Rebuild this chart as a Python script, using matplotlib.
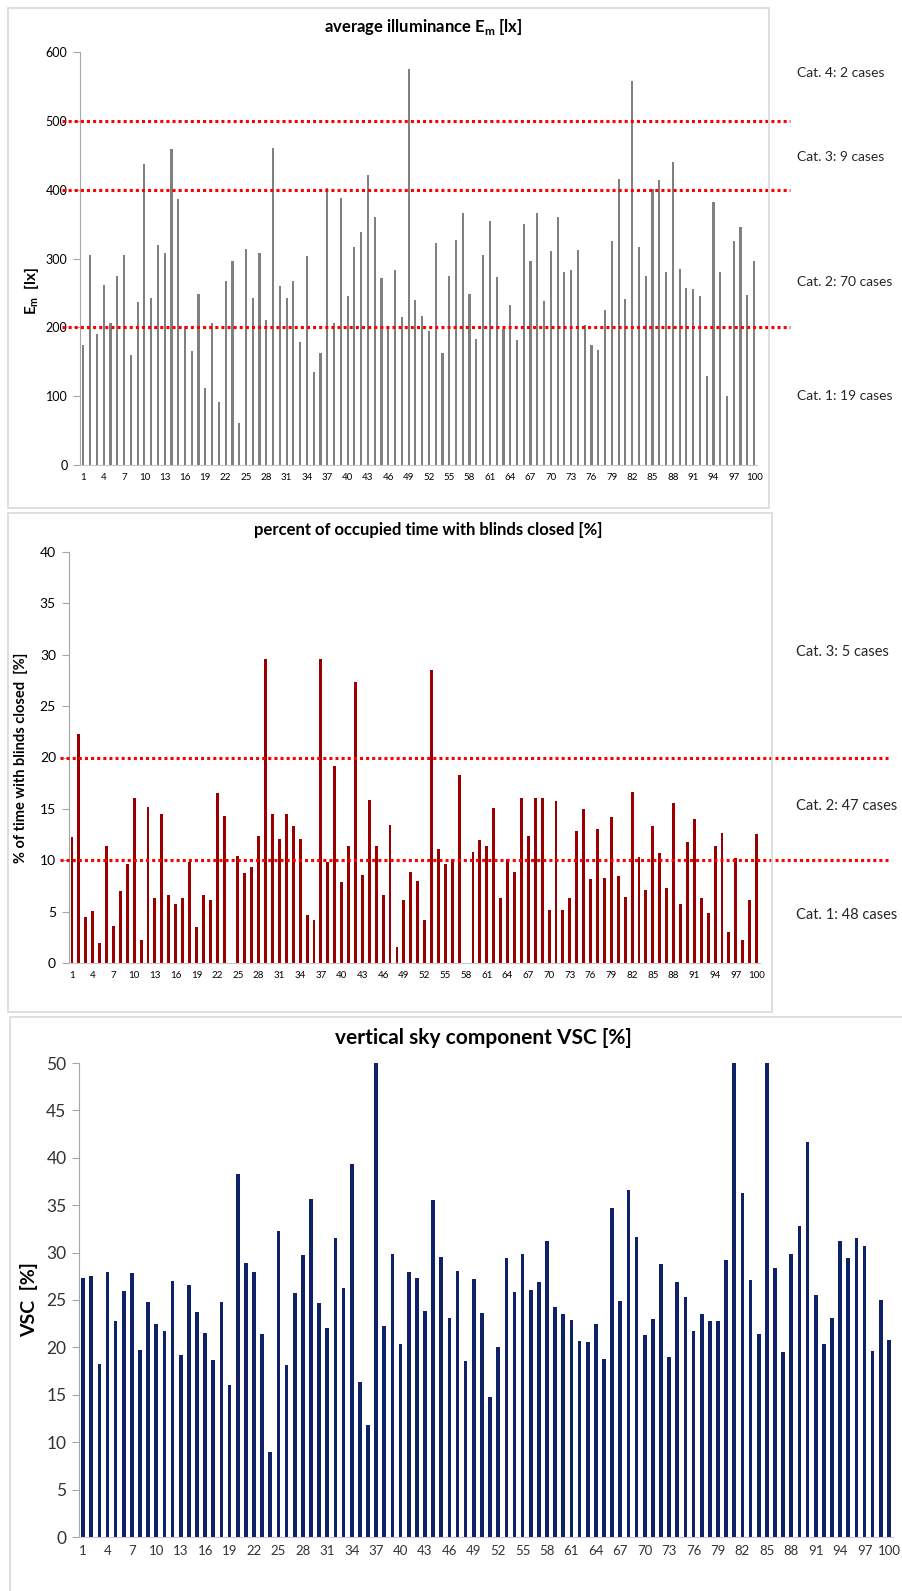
import numpy as np
import matplotlib
matplotlib.use("Agg")
import matplotlib.pyplot as plt
from matplotlib.patches import Rectangle

plt.rcParams['font.family'] = ['Lato', 'DejaVu Sans']
plt.rcParams['mathtext.fontset'] = 'custom'
plt.rcParams['mathtext.rm'] = 'Lato'
plt.rcParams['mathtext.bf'] = 'Lato:bold'

# case numbers 1..100
cases = list(range(1, 101))
tick_cases = list(range(1, 101, 3))

# average illuminance Em [lx]
illuminance = [175, 305, 191, 262, 206, 274, 305, 160, 237, 438,
               242, 320, 308, 459, 386, 202, 166, 248, 112, 206,
               92, 267, 297, 61, 314, 243, 308, 210, 460, 260,
               242, 267, 178, 303, 135, 162, 402, 207, 388, 245,
               317, 339, 421, 360, 272, 201, 284, 215, 575, 239,
               217, 195, 323, 162, 275, 327, 366, 248, 183, 305,
               354, 273, 198, 232, 181, 350, 296, 366, 238, 311,
               361, 280, 283, 313, 203, 174, 167, 225, 325, 416,
               241, 558, 316, 275, 401, 414, 281, 440, 285, 257,
               255, 245, 129, 382, 280, 100, 325, 346, 247, 297]

# percent of occupied time with blinds closed [%]
blinds_closed = [12.3, 22.3, 4.5, 5.1, 1.9, 11.4, 3.6, 7.0, 9.6, 16.1,
                 2.2, 15.2, 6.3, 14.5, 6.6, 5.7, 6.3, 9.8, 3.5, 6.6,
                 6.1, 16.5, 14.3, 0.0, 10.4, 8.8, 9.3, 12.4, 29.6, 14.5,
                 12.1, 14.5, 13.3, 12.1, 4.7, 4.2, 29.6, 9.8, 19.2, 7.9,
                 11.4, 27.3, 8.6, 15.9, 11.4, 6.6, 13.4, 1.6, 6.1, 8.9,
                 8.0, 4.2, 28.5, 11.1, 9.6, 10.1, 18.3, 0.0, 10.8, 12.0,
                 11.4, 15.1, 6.3, 10.1, 8.9, 16.1, 12.4, 16.1, 16.1, 5.2,
                 15.8, 5.2, 6.3, 12.8, 15.0, 8.2, 13.0, 8.3, 14.2, 8.5,
                 6.4, 16.6, 10.3, 7.1, 13.3, 10.7, 7.3, 15.6, 5.7, 11.8,
                 14.0, 6.3, 4.9, 11.4, 12.7, 3.0, 10.2, 2.2, 6.1, 12.6]

# vertical sky component VSC [%]
vsc = [27.3, 27.5, 18.3, 28.0, 22.8, 25.9, 27.8, 19.7, 24.8, 22.5,
       21.7, 27.0, 19.2, 26.6, 23.7, 21.5, 18.7, 24.8, 16.0, 38.3,
       28.9, 28.0, 21.4, 9.0, 32.3, 18.1, 25.7, 29.7, 35.7, 24.7,
       22.0, 31.5, 26.3, 39.3, 16.4, 11.8, 50.0, 22.3, 29.8, 20.4,
       28.0, 27.3, 23.8, 35.5, 29.5, 23.1, 28.1, 18.6, 27.2, 23.6,
       14.8, 20.0, 29.4, 25.8, 29.8, 26.1, 26.9, 31.2, 24.3, 23.5,
       22.9, 20.7, 20.6, 22.5, 18.8, 34.7, 24.9, 36.6, 31.6, 21.3,
       23.0, 28.8, 19.0, 26.9, 25.3, 21.7, 23.5, 22.8, 22.8, 29.2,
       50.0, 36.3, 27.1, 21.4, 50.0, 28.4, 19.5, 29.8, 32.8, 41.7,
       25.5, 20.4, 23.1, 31.2, 29.4, 31.5, 30.7, 19.6, 25.0, 20.8]

# category thresholds and labels
illum_limits = [200, 400, 500]
illum_cats = ["Cat. 4: 2 cases", "Cat. 3: 9 cases", "Cat. 2: 70 cases", "Cat. 1: 19 cases"]
illum_cat_y = [570, 448, 266, 100]

blinds_limits = [10, 20]
blinds_cats = ["Cat. 3: 5 cases", "Cat. 2: 47 cases", "Cat. 1: 48 cases"]
blinds_cat_y = [30.3, 15.3, 4.7]

W, H = 903, 1591
fig = plt.figure(figsize=(W / 100, H / 100), dpi=100)


def px_box(x0, y0, x1, y1):
    # pixel box (top-left origin) -> figure fraction rect
    return [x0 / W, 1 - y1 / H, (x1 - x0) / W, (y1 - y0) / H]


def frame(x0, y0, x1, y1):
    r = px_box(x0, y0, x1, y1)
    fig.add_artist(Rectangle((r[0], r[1]), r[2], r[3], transform=fig.transFigure,
                             fill=False, ec='#D9D9D9', lw=1.2))


def style_axis(ax, ysize, xsize, ycolor='black'):
    for s in ['top', 'right']:
        ax.spines[s].set_visible(False)
    ax.spines['left'].set_color('#A6A6A6')
    ax.spines['bottom'].set_color('#C8C8C8')
    ax.tick_params(axis='y', direction='out', length=5, color='#A6A6A6',
                   labelsize=ysize, labelcolor=ycolor, pad=4)
    ax.tick_params(axis='x', length=0, labelsize=xsize, labelcolor=ycolor, pad=6)
    ax.set_xlim(0.5, 100.5)
    ax.set_xticks(tick_cases)
    ax.set_xticklabels([str(c) for c in tick_cases])


# chart frames
frame(8, 8, 769, 508)
frame(8, 513, 772, 1012)
frame(10, 1017, 920, 1600)

# ---- panel 1: average illuminance
ax1 = fig.add_axes(px_box(80, 52, 757.5, 465))
ax1.bar(cases, illuminance, width=0.32, color='#808080')
ax1.set_ylim(0, 600)
ax1.set_yticks(range(0, 601, 100))
style_axis(ax1, 9, 7)
for lim in illum_limits:
    ax1.axhline(lim, xmin=-0.027, xmax=1.048, color='#FF0000', lw=2.2,
                linestyle=(0, (1, 1)), clip_on=False, zorder=3)
for txt, yy in zip(illum_cats, illum_cat_y):
    ax1.text(1.058, yy, txt, transform=ax1.get_yaxis_transform(), fontsize=10,
             color='#262626', va='center', ha='left')
ax1.set_ylabel(r'E$_{\mathbf{m}}$  [lx]', fontsize=11, fontweight='bold')
ax1.yaxis.set_label_coords(-0.058, 0.42)
fig.text(423 / W, 1 - 27 / H, r'average illuminance E$_{\mathbf{m}}$ [lx]',
         ha='center', va='center', fontsize=12, fontweight='bold')

# ---- panel 2: blinds closed
ax2 = fig.add_axes(px_box(68.5, 552, 760, 963))
ax2.bar(cases, blinds_closed, width=0.42, color='#9A0000')
ax2.set_ylim(0, 40)
ax2.set_yticks(range(0, 41, 5))
style_axis(ax2, 10, 7)
for lim in blinds_limits:
    ax2.axhline(lim, xmin=-0.012, xmax=1.185, color='#FF0000', lw=2.2,
                linestyle=(0, (1, 1)), clip_on=False, zorder=3)
for txt, yy in zip(blinds_cats, blinds_cat_y):
    ax2.text(1.052, yy, txt, transform=ax2.get_yaxis_transform(), fontsize=10.5,
             color='#262626', va='center', ha='left')
ax2.set_ylabel('% of time with blinds closed  [%]', fontsize=10.5, fontweight='bold')
ax2.yaxis.set_label_coords(-0.058, 0.5)
fig.text(428 / W, 1 - 530 / H, 'percent of occupied time with blinds closed [%]',
         ha='center', va='center', fontsize=12, fontweight='bold')

# ---- panel 3: VSC
ax3 = fig.add_axes(px_box(79, 1063, 893, 1537))
ax3.bar(cases, vsc, width=0.45, color='#0F2167')
ax3.set_ylim(0, 50)
ax3.set_yticks(range(0, 51, 5))
style_axis(ax3, 12.5, 9.5, ycolor='#333333')
ax3.set_ylabel('VSC  [%]', fontsize=14, fontweight='bold')
ax3.yaxis.set_label_coords(-0.05, 0.5)
fig.text(483 / W, 1 - 1038 / H, 'vertical sky component VSC [%]',
         ha='center', va='center', fontsize=15, fontweight='bold')

fig.savefig('out.png', dpi=100)
